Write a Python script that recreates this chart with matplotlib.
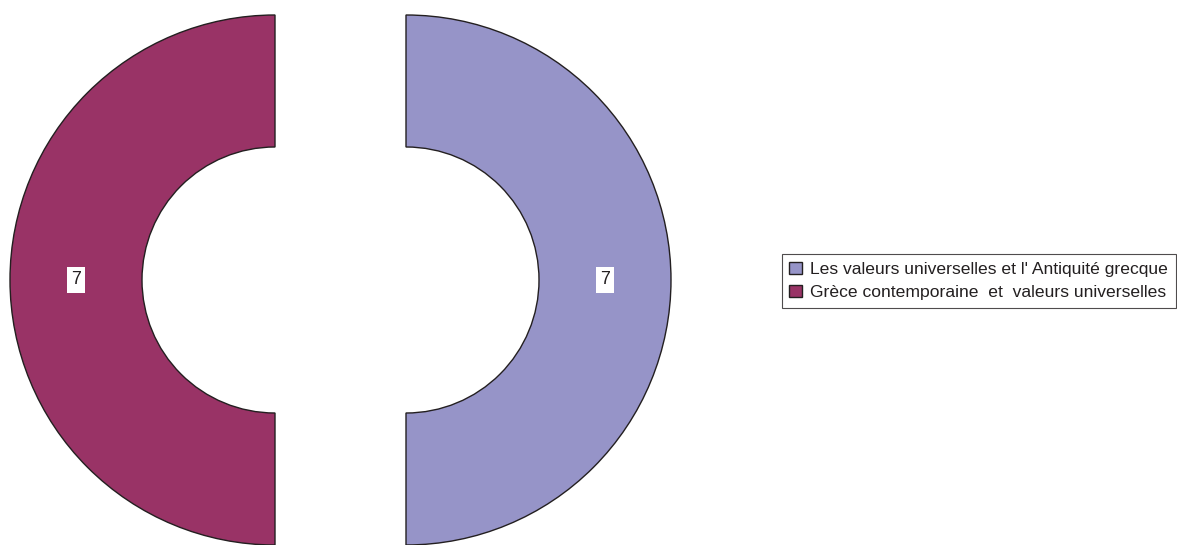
import matplotlib.pyplot as plt
from matplotlib.patches import Patch

# data
labels = ["Les valeurs universelles et l' Antiquité grecque",
          "Grèce contemporaine  et  valeurs universelles"]
values = [7, 7]
colors = ["#9694C8", "#993366"]

plt.rcParams['font.family'] = ['Liberation Sans', 'DejaVu Sans']

W, H = 1177, 545
fig = plt.figure(figsize=(W / 100, H / 100), dpi=100)
ax = fig.add_axes([0, 0, 1, 1])

# pixel-like coordinates, y going up
cx, cy = 340.5, H - 280
R = 265
ring = 132

wedges, texts, autotexts = ax.pie(
    values, colors=colors, radius=R, center=(cx, cy),
    startangle=90, counterclock=False,
    explode=[65.5, 65.5],
    wedgeprops=dict(width=ring, edgecolor="#231F20", linewidth=1.0),
    autopct=lambda p: "%d" % round(p * sum(values) / 100),
    pctdistance=(R - ring / 2) / R,
    textprops=dict(fontsize=13, color="#231F20"),
)
for t in autotexts:
    t.set_bbox(dict(facecolor="white", edgecolor="none", pad=3))

ax.set_xlim(0, W)
ax.set_ylim(0, H)
ax.set_aspect('equal')
ax.axis('off')

handles = [Patch(facecolor=c, edgecolor="#231F20", linewidth=1.0) for c in colors]
leg = fig.legend(handles, labels, loc='center left',
                 bbox_to_anchor=(782 / W, 1 - 281 / H),
                 fontsize=12.6, frameon=True, fancybox=False,
                 handlelength=0.7, handleheight=0.7, handletextpad=0.5,
                 borderpad=0.42, labelspacing=0.45, borderaxespad=0)
leg.get_frame().set_edgecolor("#231F20")
leg.get_frame().set_linewidth(0.8)
for t in leg.get_texts():
    t.set_color("#231F20")

fig.savefig("out.png", dpi=100)
